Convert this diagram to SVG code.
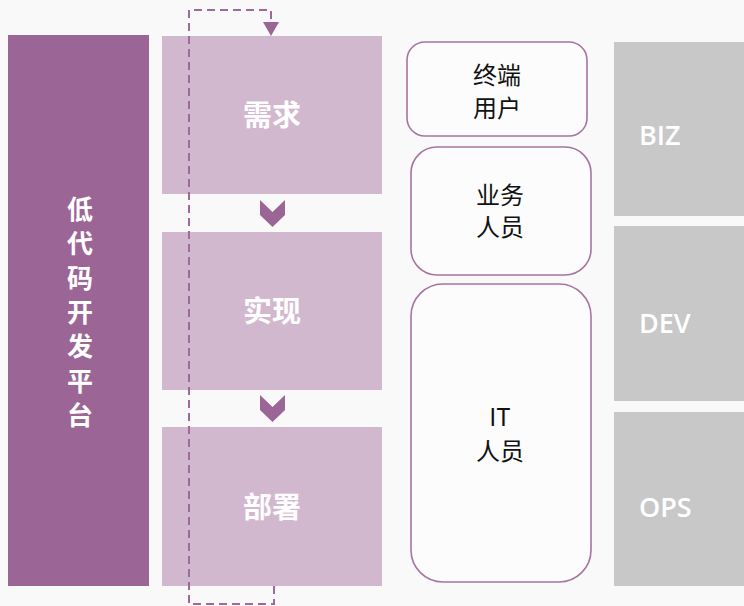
<svg xmlns="http://www.w3.org/2000/svg" width="744" height="606" viewBox="0 0 744 606">
<defs>
<style>
.bg{fill:#f9f9f9}
.platform{fill:#9b6596}
.stage{fill:#d2b8cf}
.chev{fill:#9b6596}
.role{fill:#fcfcfc;stroke:#a674a1;stroke-width:1.6}
.gray{fill:#c8c8c8}
.wt{font-family:"Noto Sans CJK SC","Noto Sans",sans-serif;fill:#ffffff;font-weight:bold;text-anchor:middle}
.vt{font-family:"Noto Sans CJK SC","Noto Sans",sans-serif;fill:#ffffff;font-weight:bold;font-size:26px;text-anchor:middle}
.bt{font-family:"Noto Sans CJK SC","Noto Sans",sans-serif;fill:#111111;font-size:24px;text-anchor:middle}
.gt{font-family:"Open Sans","Noto Sans",sans-serif;fill:#ffffff;font-size:27px;font-weight:600}
.dash{fill:none;stroke:#a0699b;stroke-width:2;stroke-dasharray:8 5}
</style>
</defs>
<rect class="bg" x="0" y="0" width="744" height="606"/>

<g id="platform">
<rect class="platform" x="8" y="35" width="141" height="551"/>
<text class="vt" x="80" y="219">低</text>
<text class="vt" x="80" y="253">代</text>
<text class="vt" x="80" y="288">码</text>
<text class="vt" x="80" y="322">开</text>
<text class="vt" x="80" y="356">发</text>
<text class="vt" x="80" y="391">平</text>
<text class="vt" x="80" y="425">台</text>
</g>

<g id="stage-req">
<rect class="stage" x="162" y="36" width="220" height="158"/>
<text class="wt" font-size="29" x="272" y="126">需求</text>
</g>
<g id="stage-impl">
<rect class="stage" x="162" y="232" width="220" height="158"/>
<text class="wt" font-size="29" x="272" y="322">实现</text>
</g>
<g id="stage-deploy">
<rect class="stage" x="162" y="427" width="220" height="159"/>
<text class="wt" font-size="29" x="272" y="518">部署</text>
</g>

<g id="role-enduser">
<rect class="role" x="407" y="42" width="180" height="94" rx="18"/>
<text class="bt"><tspan x="497" y="84">终端</tspan><tspan x="497" y="117">用户</tspan></text>
</g>
<g id="role-business">
<rect class="role" x="411" y="147" width="180" height="128" rx="26"/>
<text class="bt"><tspan x="500" y="204">业务</tspan><tspan x="500" y="236">人员</tspan></text>
</g>
<g id="role-it">
<rect class="role" x="411" y="284" width="180" height="298" rx="32"/>
<text class="bt"><tspan x="500" y="426">IT</tspan><tspan x="500" y="460">人员</tspan></text>
</g>

<g id="biz">
<rect class="gray" x="614" y="42" width="130" height="174"/>
<text class="gt" x="639" y="145">BIZ</text>
</g>
<g id="dev">
<rect class="gray" x="614" y="226" width="130" height="175"/>
<text class="gt" x="639" y="333">DEV</text>
</g>
<g id="ops">
<rect class="gray" x="614" y="412" width="130" height="174"/>
<text class="gt" x="639" y="517">OPS</text>
</g>

<g id="connectors">
<path class="chev" d="M260,200 L272.5,212 L285,200 L285,215 L272.5,227 L260,215 Z"/>
<path class="chev" d="M260,395 L272.5,407 L285,395 L285,410 L272.5,422 L260,410 Z"/>
<path class="dash" d="M274,586 L274,604 L189,604 L189,10 L271,10 L271,23"/>
<path d="M263,22 L279,22 L271,36 Z" fill="#9b6596"/>
</g>
</svg>
